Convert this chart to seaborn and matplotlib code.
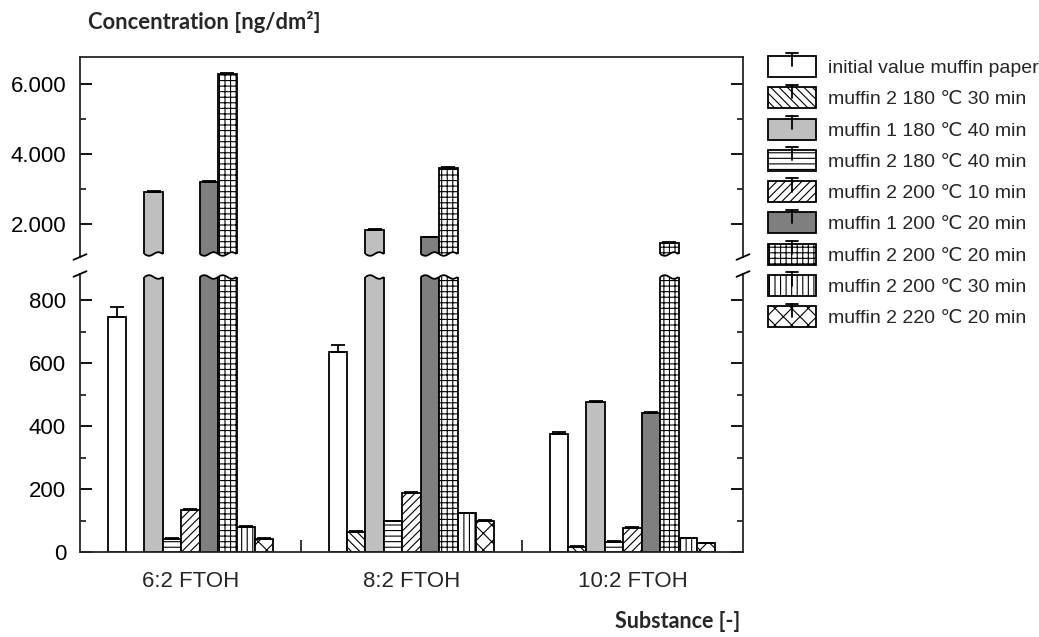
import numpy as np
import pandas as pd
import matplotlib
matplotlib.use("Agg")
import matplotlib.pyplot as plt
import matplotlib.transforms as mtransforms
from matplotlib.patches import Rectangle, Polygon
from matplotlib.lines import Line2D
from matplotlib.legend_handler import HandlerBase
from matplotlib.ticker import FuncFormatter, FixedLocator
import seaborn as sns

# ---------------- data ----------------
substances = ["6:2 FTOH", "8:2 FTOH", "10:2 FTOH"]
series = [
    "initial value muffin paper",
    "muffin 2 180 \u2103 30 min",
    "muffin 1 180 \u2103 40 min",
    "muffin 2 180 \u2103 40 min",
    "muffin 2 200 \u2103 10 min",
    "muffin 1 200 \u2103 20 min",
    "muffin 2 200 \u2103 20 min",
    "muffin 2 200 \u2103 30 min",
    "muffin 2 220 \u2103 20 min",
]
initial_paper = [745, 636, 374]
m2_180_30 = [np.nan, 64, 17]
m1_180_40 = [2920, 1830, 478]
m2_180_40 = [42, 97, 32]
m2_200_10 = [134, 186, 76]
m1_200_20 = [3210, 1615, 441]
m2_200_20 = [6290, 3590, 1445]
m2_200_30 = [79, 123, 43]
m2_220_20 = [41, 99, 28]

err_initial_paper = [32, 21, 8]
err_m2_180_30 = [0, 2, 1]
err_m1_180_40 = [20, 15, 3]
err_m2_180_40 = [3, 3, 2]
err_m2_200_10 = [2, 3, 2]
err_m1_200_20 = [20, 15, 3]
err_m2_200_20 = [25, 25, 30]
err_m2_200_30 = [2, 2, 2]
err_m2_220_20 = [2, 2, 2]

values = [initial_paper, m2_180_30, m1_180_40, m2_180_40, m2_200_10,
          m1_200_20, m2_200_20, m2_200_30, m2_220_20]
errors = [err_initial_paper, err_m2_180_30, err_m1_180_40, err_m2_180_40,
          err_m2_200_10, err_m1_200_20, err_m2_200_20, err_m2_200_30, err_m2_220_20]

lower_ticks = [0, 200, 400, 600, 800]
upper_ticks = [2000, 4000, 6000]

# ---------------- style ----------------
fills = ["white", "white", "#bfbfbf", "white", "white", "#7f7f7f", "white", "white", "white"]
hatches = ["", "\\\\\\\\", "", "---", "////", "", "+++", "|||", "xx"]

sns.set_style("ticks")
plt.rcParams["font.family"] = ["Liberation Sans", "DejaVu Sans"]
plt.rcParams["hatch.linewidth"] = 0.8
plt.rcParams["hatch.color"] = "black"

rows = []
for s, vals in zip(series, values):
    for sub, v in zip(substances, vals):
        rows.append({"substance": sub, "series": s, "value": v})
df = pd.DataFrame(rows)
palette = dict(zip(series, fills))

W, H = 1039, 637
fig = plt.figure(figsize=(W / 100, H / 100), dpi=100)


def px_axes(left, top, right, bottom):
    return fig.add_axes([left / W, 1 - bottom / H, (right - left) / W, (bottom - top) / H])


ax_up = px_axes(80, 57, 743, 257)
ax_lo = px_axes(80, 274, 743, 552)
LW = 1.3
NS = len(series)
BW = 0.75

for ax in (ax_up, ax_lo):
    sns.barplot(data=df, x="substance", y="value", hue="series", order=substances,
                hue_order=series, palette=palette, width=BW, saturation=1,
                errorbar=None, legend=False, edgecolor="black", linewidth=LW,
                ax=ax, zorder=2)
    ax.set_xlabel("")
    ax.set_ylabel("")
    ax.set_xlim(-0.5, 2.5)

ax_up.set_ylim(1057, 6771)
ax_lo.set_ylim(0, 883)

# hatches + error bars
for ax in (ax_up, ax_lo):
    ex, ey, ee = [], [], []
    for p in list(ax.patches):
        h = p.get_height()
        if h is None or np.isnan(h) or h == 0:
            continue
        cx = p.get_x() + p.get_width() / 2
        gi = int(round(cx))
        j = int(round((cx - gi + BW / 2) / (BW / NS) - 0.5))
        p.set_hatch(hatches[j])
        p.set_edgecolor("black")
        p.set_linewidth(LW)
        ex.append(cx)
        ey.append(values[j][gi])
        ee.append(errors[j][gi])
    ax.errorbar(ex, ey, yerr=[np.zeros(len(ee)), ee], fmt="none", ecolor="black",
                elinewidth=LW, capsize=5, capthick=LW, zorder=3)

# wavy cuts on broken bars
def wave_cut(ax, p, at_top):
    axh = ax.get_window_extent().height
    trans = mtransforms.blended_transform_factory(ax.transData, ax.transAxes)
    x0, w = p.get_x(), p.get_width()
    t = np.linspace(0, 1, 60)
    xs = x0 + t * w
    off = (3.0 - 1.8 * np.sin(2 * np.pi * t)) / axh
    pad = 0.012
    if at_top:
        ys = 1 - off
        verts = [(x0 - pad, 1.0)] + [(x0 - pad, ys[0])] + list(zip(xs, ys)) + [(x0 + w + pad, ys[-1]), (x0 + w + pad, 1.0)]
    else:
        ys = off
        verts = [(x0 - pad, 0.0)] + [(x0 - pad, ys[0])] + list(zip(xs, ys)) + [(x0 + w + pad, ys[-1]), (x0 + w + pad, 0.0)]
    ax.add_patch(Polygon(verts, closed=True, facecolor="white", edgecolor="none",
                         transform=trans, zorder=4))
    ax.plot(xs, ys, color="black", lw=LW, transform=trans, zorder=5, solid_capstyle="butt")

lo_top = ax_lo.get_ylim()[1]
for p in list(ax_lo.patches):
    h = p.get_height()
    if h is not None and not np.isnan(h) and h > lo_top:
        wave_cut(ax_lo, p, True)
for p in list(ax_up.patches):
    h = p.get_height()
    if h is not None and not np.isnan(h) and h > ax_up.get_ylim()[0] and isinstance(p, Rectangle):
        wave_cut(ax_up, p, False)

# spines / ticks
for ax in (ax_up, ax_lo):
    for s in ax.spines.values():
        s.set_linewidth(LW)
        s.set_zorder(6)
ax_up.spines["bottom"].set_visible(False)
ax_lo.spines["top"].set_visible(False)

thousands = FuncFormatter(lambda v, pos: f"{int(round(v)):,}".replace(",", "."))
ax_up.yaxis.set_major_locator(FixedLocator(upper_ticks))
ax_up.yaxis.set_minor_locator(FixedLocator([3000, 5000]))
ax_up.yaxis.set_major_formatter(thousands)
ax_lo.yaxis.set_major_locator(FixedLocator(lower_ticks))
ax_lo.yaxis.set_minor_locator(FixedLocator([100, 300, 500, 700]))

for ax in (ax_up, ax_lo):
    ax.tick_params(axis="y", which="major", direction="in", left=True, right=True,
                   length=8.6, width=LW, labelsize=16, pad=10, colors="black")
    ax.tick_params(axis="y", which="minor", direction="in", left=True, right=True,
                   length=4.3, width=LW)

ax_up.tick_params(axis="x", which="both", bottom=False, top=False, labelbottom=False)
ax_lo.xaxis.set_minor_locator(FixedLocator([0.5, 1.5]))
ax_lo.tick_params(axis="x", which="major", length=0, labelsize=16, pad=14)
ax_lo.tick_params(axis="x", which="minor", direction="in", length=8.6, width=LW, bottom=True)

# break marks on spines
def slash(ax, xa, ya):
    axw = ax.get_window_extent().width
    axh = ax.get_window_extent().height
    dx, dy = 6.5 / axw, 2.8 / axh
    ax.plot([xa - dx, xa + dx], [ya - dy, ya + dy], transform=ax.transAxes,
            color="black", lw=LW, clip_on=False, zorder=7)

slash(ax_up, 0, 0)
slash(ax_up, 1, 0)
slash(ax_lo, 0, 1)
slash(ax_lo, 1, 1)

# legend with error-bar "T" in each key
class BarErrHandler(HandlerBase):
    def create_artists(self, legend, orig_handle, xdescent, ydescent, width, height,
                       fontsize, trans):
        x0, y0 = -xdescent, -ydescent
        r = Rectangle((x0, y0), width, height, facecolor=orig_handle.get_facecolor(),
                      hatch=orig_handle.get_hatch(), edgecolor="black", lw=LW,
                      transform=trans)
        cx = x0 + width / 2
        top = y0 + height
        stem = Line2D([cx, cx], [top - height * 0.5, top + 2], color="black", lw=LW,
                      transform=trans)
        cap = Line2D([cx - 4.5, cx + 4.5], [top + 2, top + 2], color="black", lw=LW,
                     transform=trans)
        return [r, stem, cap]


handles = [Rectangle((0, 0), 1, 1, facecolor=f, hatch=h, edgecolor="black")
           for f, h in zip(fills, hatches)]
fig.legend(handles, series, loc="upper left", bbox_to_anchor=(768 / W, 1 - 56 / H),
           frameon=False, fontsize=14, handlelength=2.45, handleheight=1.28,
           handletextpad=0.62, labelspacing=0.53, borderpad=0, borderaxespad=0,
           handler_map={Rectangle: BarErrHandler()})

# axis titles
fig.text(88 / W, 1 - 22 / H, "Concentration [ng/dm\u00b2]", fontfamily="Lato",
         fontweight="bold", fontsize=15.8, ha="left", va="center")
fig.text(740 / W, 1 - 622 / H, "Substance [-]", fontfamily="Lato",
         fontweight="bold", fontsize=15.5, ha="right", va="center")

fig.savefig("out.png", dpi=100)
